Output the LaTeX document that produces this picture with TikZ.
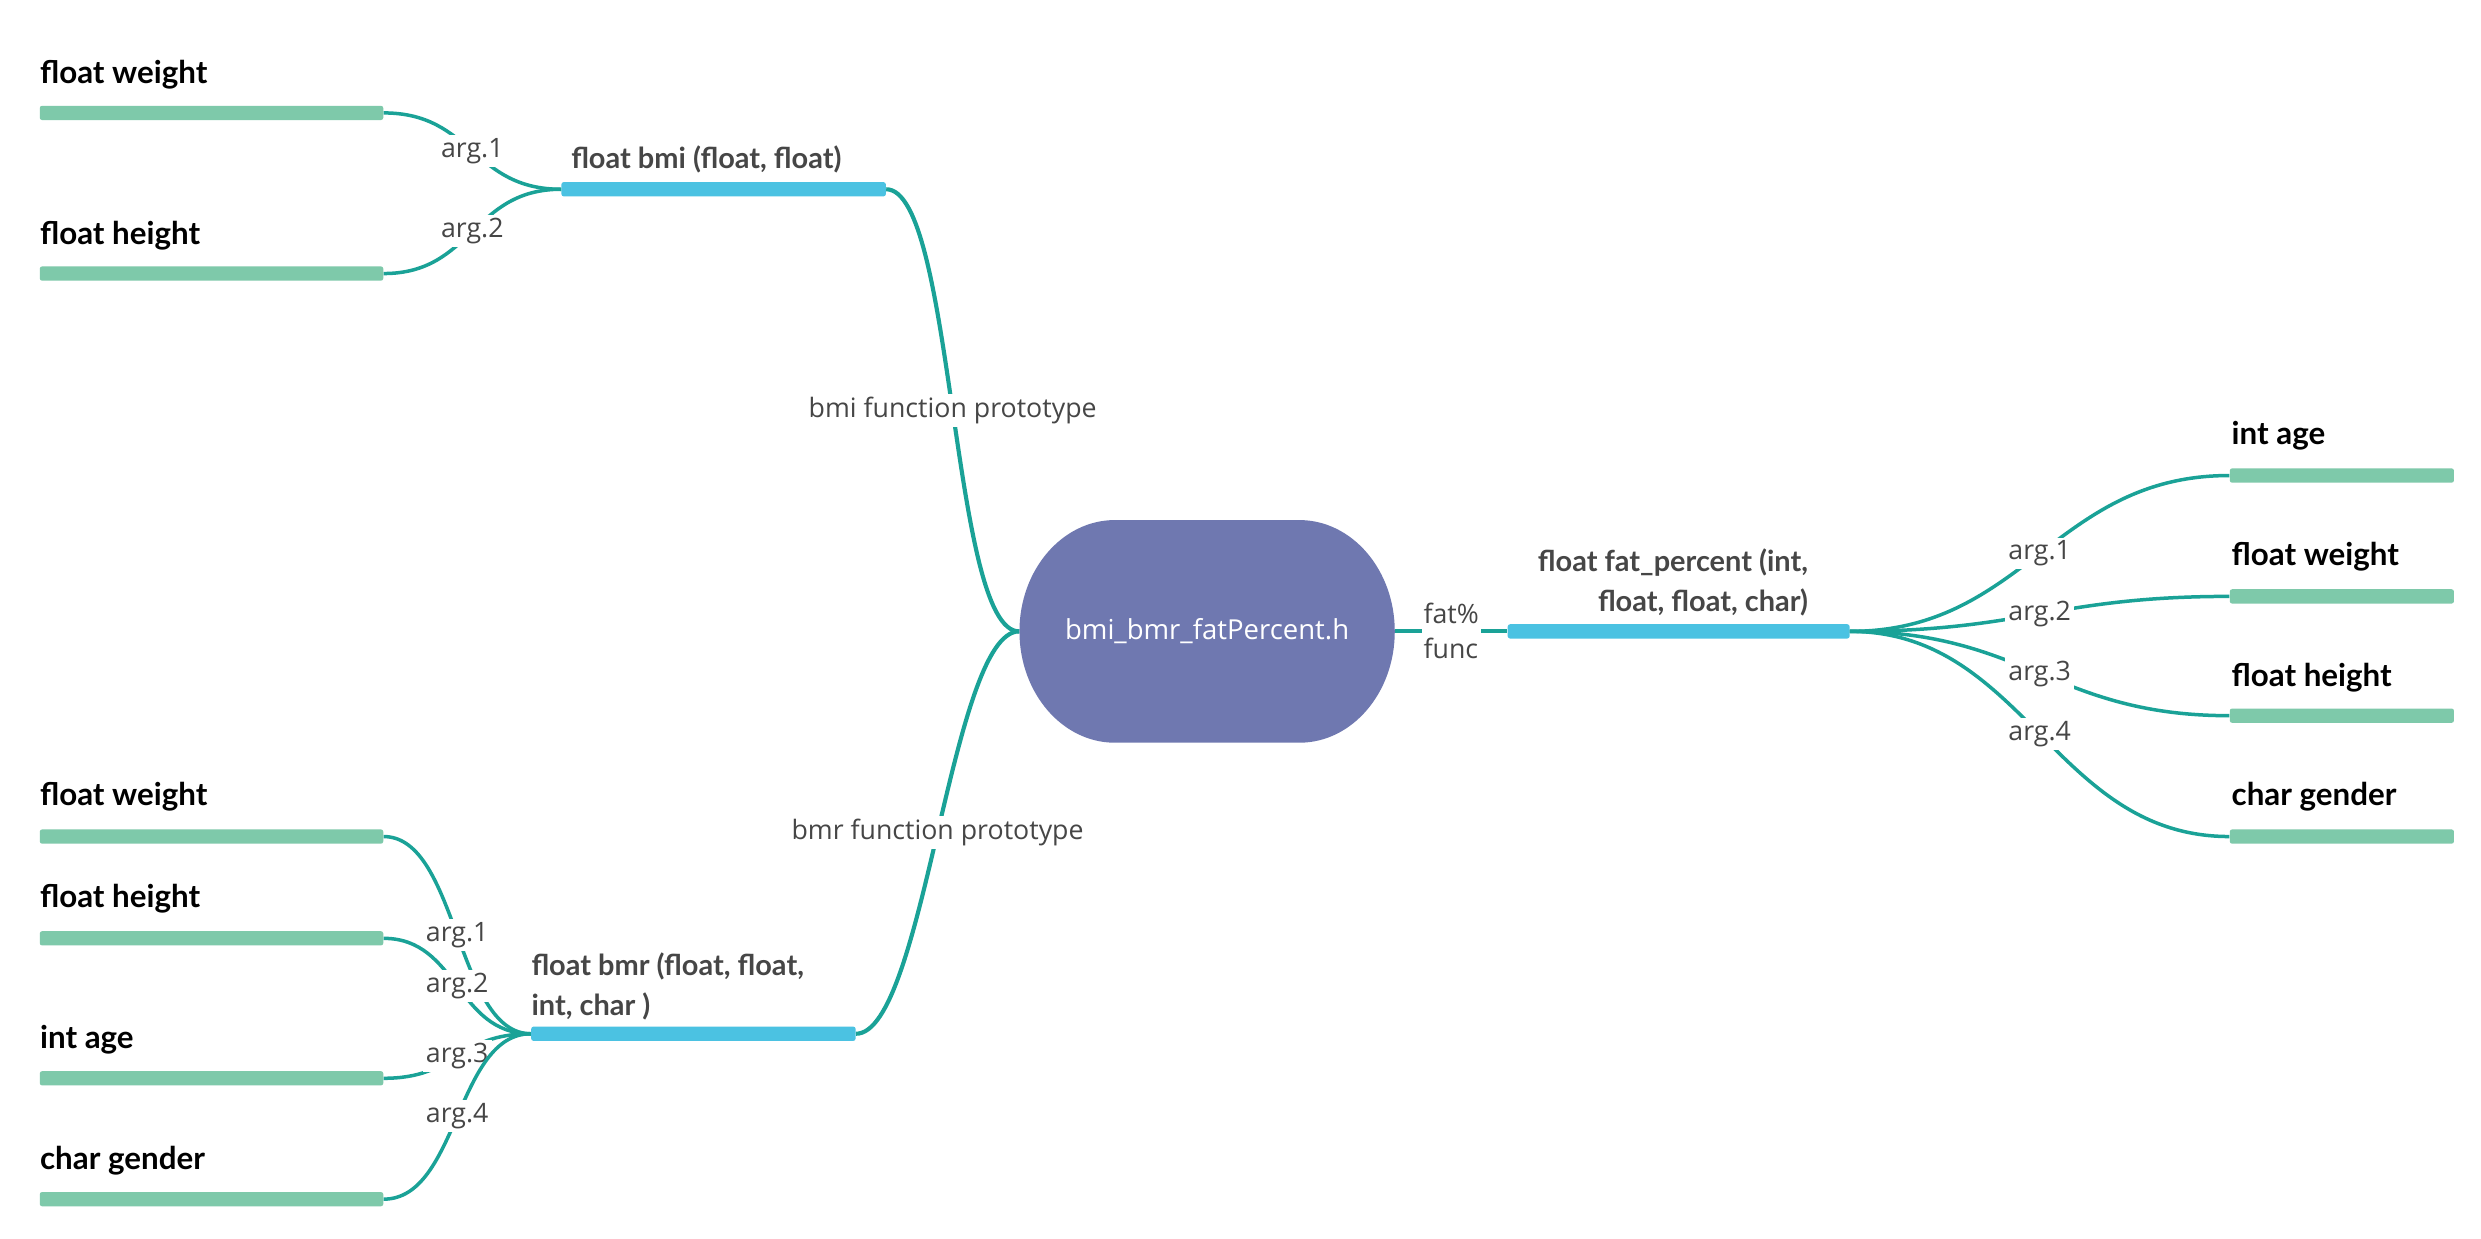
\documentclass[tikz,border=0pt]{standalone}
\usepackage{fontspec}
\setmainfont{Open Sans}
\newfontfamily\latofont{Lato}
\definecolor{linkteal}{RGB}{26,162,151}
\definecolor{leafgreen}{RGB}{126,201,170}
\definecolor{funcblue}{RGB}{75,194,226}
\definecolor{rootfill}{RGB}{111,120,176}
\definecolor{greytext}{RGB}{70,70,70}
\tikzset{
  conn/.style={draw=linkteal, line width=2.2pt},
  rootconn/.style={draw=linkteal, line width=2.6pt},
  leafbar/.style={fill=leafgreen, minimum height=9pt, inner sep=0pt, rounded corners=1.5pt},
  funcbar/.style={fill=funcblue, minimum height=9pt, inner sep=0pt, rounded corners=1.5pt},
  leaftext/.style={anchor=west, inner sep=0pt, text=black, font=\latofont\bfseries\fontsize{19.7}{23}\selectfont},
  argtext/.style={fill=white, inner sep=2pt, text=greytext, font=\fontsize{16.8}{22}\selectfont},
  functext/.style={inner sep=0pt, text=greytext, font=\latofont\bfseries\fontsize{18.2}{25}\selectfont},
}
\begin{document}
\begin{tikzpicture}[x=1pt,y=-1pt]
\useasboundingbox[fill=white] (0,0) rectangle (1560,779);
% root pill
\fill[rootfill] (701,327) -- (817,327) .. controls (850.1,327) and (877,358.3) .. (877,397)
  .. controls (877,435.7) and (850.1,467) .. (817,467) -- (701,467)
  .. controls (667.9,467) and (641,435.7) .. (641,397)
  .. controls (641,358.3) and (667.9,327) .. (701,327) -- cycle;
\node[minimum width=236pt, minimum height=140pt, inner sep=0pt, text=white, font=\fontsize{17.3}{20}\selectfont] (root) at (759,397) {bmi\_bmr\_fatPercent.h};

% function bars
\node[funcbar, minimum width=204pt] (bmi) at (455,119) {};
\node[funcbar, minimum width=204pt] (bmr) at (436,650) {};
\node[funcbar, minimum width=215pt] (fat) at (1055.5,397) {};
\node[functext, anchor=west] (bmit) at (359,100) {float bmi (float, float)};
\node[functext, anchor=west, align=left] (bmrt) at (334,620) {float bmr (float, float,\\int, char )};
\node[functext, anchor=east, align=right] (fatt) at (1137,366) {float fat\_percent (int,\\float, float, char)};

% left top leaves
\node[leafbar, minimum width=216pt] (a1) at (133,71) {};
\node[leafbar, minimum width=216pt] (a2) at (133,172) {};
\node[leaftext] (a1t) at (25,47) {float weight};
\node[leaftext] (a2t) at (25,148) {float height};

% left bottom leaves
\node[leafbar, minimum width=216pt] (b1) at (133,526) {};
\node[leafbar, minimum width=216pt] (b2) at (133,590) {};
\node[leafbar, minimum width=216pt] (b3) at (133,678) {};
\node[leafbar, minimum width=216pt] (b4) at (133,754) {};
\node[leaftext] (b1t) at (25,501) {float weight};
\node[leaftext] (b2t) at (25,565) {float height};
\node[leaftext] (b3t) at (25,654) {int age};
\node[leaftext] (b4t) at (25,730) {char gender};

% right leaves
\node[leafbar, minimum width=141pt] (c1) at (1472.5,299) {};
\node[leafbar, minimum width=141pt] (c2) at (1472.5,375) {};
\node[leafbar, minimum width=141pt] (c3) at (1472.5,450) {};
\node[leafbar, minimum width=141pt] (c4) at (1472.5,526) {};
\node[leaftext] (c1t) at (1403,274) {int age};
\node[leaftext] (c2t) at (1403,350) {float weight};
\node[leaftext] (c3t) at (1403,426) {float height};
\node[leaftext] (c4t) at (1403,501) {char gender};

% root connectors
\draw[rootconn] (root.west) .. controls +(-43,0) and +(43,0) .. (bmi.east)
  node[argtext, pos=0.5] {bmi function prototype};
\draw[rootconn] (root.west) .. controls +(-43,0) and +(43,0) .. (bmr.east)
  node[argtext, pos=0.5] {bmr function prototype};
\draw[rootconn] (root.east) -- (fat.west)
  node[argtext, pos=0.5, align=left, inner sep=1pt] {fat\%\\func};

% bmi args
\draw[conn] (bmi.west) .. controls +(-56,0) and +(56,0) .. (a1.east) node[argtext, pos=0.5] {arg.1};
\draw[conn] (bmi.west) .. controls +(-56,0) and +(56,0) .. (a2.east) node[argtext, pos=0.5] {arg.2};

% bmr args
\draw[conn] (bmr.west) .. controls +(-47,0) and +(47,0) .. (b1.east) node[argtext, pos=0.5] {arg.1};
\draw[conn] (bmr.west) .. controls +(-47,0) and +(47,0) .. (b2.east) node[argtext, pos=0.5] {arg.2};
\draw[conn] (bmr.west) .. controls +(-47,0) and +(47,0) .. (b3.east) node[argtext, pos=0.5] {arg.3};
\draw[conn] (bmr.west) .. controls +(-47,0) and +(47,0) .. (b4.east) node[argtext, pos=0.5] {arg.4};

% fat args
\draw[conn] (fat.east) .. controls +(110,0) and +(-110,0) .. (c1.west) node[argtext, pos=0.5] {arg.1};
\draw[conn] (fat.east) .. controls +(110,0) and +(-110,0) .. (c2.west) node[argtext, pos=0.5] {arg.2};
\draw[conn] (fat.east) .. controls +(110,0) and +(-110,0) .. (c3.west) node[argtext, pos=0.5] {arg.3};
\draw[conn] (fat.east) .. controls +(110,0) and +(-110,0) .. (c4.west) node[argtext, pos=0.5] {arg.4};
\end{tikzpicture}
\end{document}
